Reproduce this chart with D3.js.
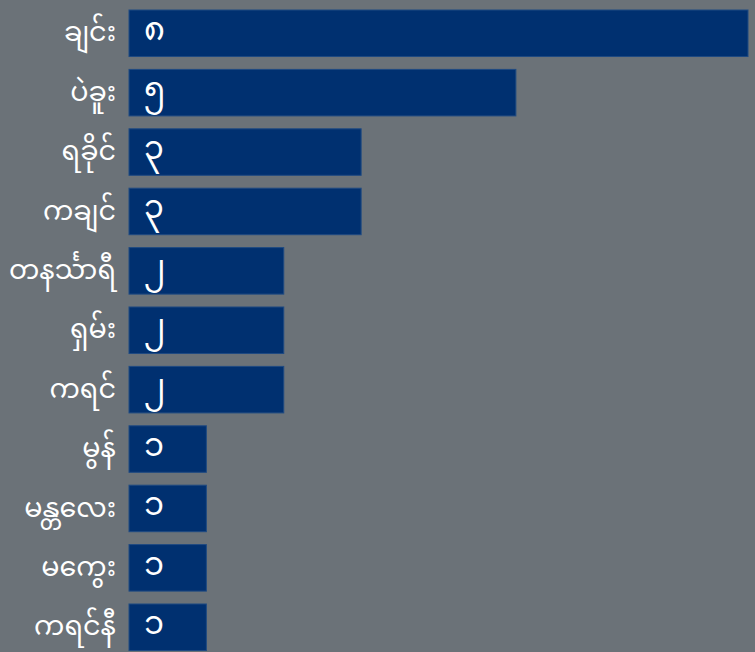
<!DOCTYPE html>
<html>
<head>
<meta charset="utf-8">
<script src="https://cdn.jsdelivr.net/npm/d3@7"></script>
<style>
html, body { margin: 0; padding: 0; background: #6b7278; }
svg { display: block; }
text { font-family: "Noto Sans Myanmar", "Padauk", "Myanmar Text", sans-serif; fill: #ffffff; }
</style>
</head>
<body>
<svg width="755" height="652"></svg>
<script>
var regions = ["ချင်း", "ပဲခူး", "ရခိုင်", "ကချင်", "တနင်္သာရီ", "ရှမ်း", "ကရင်", "မွန်", "မန္တလေး", "မကွေး", "ကရင်နီ"];
var counts = [8, 5, 3, 3, 2, 2, 2, 1, 1, 1, 1];
var digits = ["၀", "၁", "၂", "၃", "၄", "၅", "၆", "၇", "၈", "၉"];

var svg = d3.select("svg"),
	width = +svg.attr("width"),
	height = +svg.attr("height");

var data = regions.map(function(r, i) { return { name: r, value: counts[i] }; });

var x = d3.scaleLinear()
	.domain([0, 8])
	.range([129, 748]);

var y = d3.scaleBand()
	.domain(regions)
	.range([10, 650.5])
	.paddingInner(0.217)
	.paddingOuter(0);

function mmNum(n) {
	return String(n).split("").map(function(c) { return digits[+c]; }).join("");
}

svg.selectAll(".bar")
	.data(data)
	.enter().append("rect")
	.attr("class", "bar")
	.attr("x", x(0))
	.attr("y", function(d) { return y(d.name); })
	.attr("width", function(d) { return x(d.value) - x(0); })
	.attr("height", y.bandwidth())
	.attr("fill", "#003070")
	.attr("stroke", "#1f4a82")
	.attr("stroke-width", 1);

svg.selectAll(".label")
	.data(data)
	.enter().append("text")
	.attr("class", "label")
	.attr("x", 116)
	.attr("y", function(d) { return y(d.name) + y.bandwidth() / 2; })
	.attr("dy", "0.3em")
	.attr("text-anchor", "end")
	.style("font-size", "27px")
	.text(function(d) { return d.name; });

svg.selectAll(".val")
	.data(data)
	.enter().append("text")
	.attr("class", "val")
	.attr("x", x(0) + 15)
	.attr("y", function(d) { return y(d.name) + y.bandwidth() / 2; })
	.attr("dy", "0.22em")
	.style("font-size", "32px")
	.text(function(d) { return mmNum(d.value); });
</script>
</body>
</html>
